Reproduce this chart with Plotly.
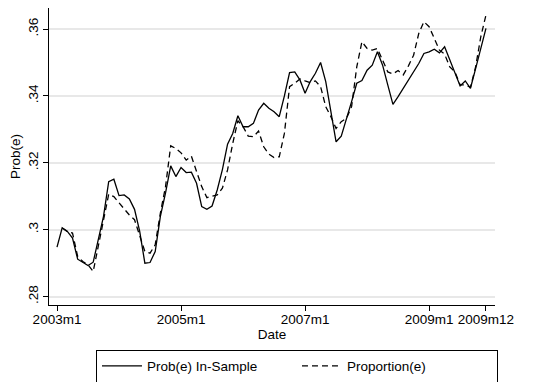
import plotly.graph_objects as go

months = list(range(84))  # 0 = 2003m1 ... 83 = 2009m12

prob_in_sample = [
    0.2948, 0.3006, 0.2995, 0.2975, 0.2912, 0.2902, 0.2893, 0.2903, 0.2970, 0.3040,
    0.3144, 0.3151, 0.3102, 0.3104, 0.3092, 0.3061, 0.2995, 0.2900, 0.2902, 0.2935,
    0.3040, 0.3110, 0.3191, 0.3159, 0.3186, 0.3171, 0.3172, 0.3139, 0.3069, 0.3061,
    0.3071, 0.3119, 0.3180, 0.3256, 0.3288, 0.3341, 0.3308, 0.3308, 0.3318, 0.3358,
    0.3378, 0.3363, 0.3353, 0.3338, 0.3400, 0.3470, 0.3472, 0.3448, 0.3408, 0.3443,
    0.3468, 0.3500, 0.3443, 0.3353, 0.3263, 0.3280, 0.3328, 0.3383, 0.3438, 0.3446,
    0.3477, 0.3492, 0.3532, 0.3492, 0.3433, 0.3375, 0.3398, 0.3423, 0.3448, 0.3472,
    0.3497, 0.3527, 0.3532, 0.3540, 0.3529, 0.3547, 0.3507, 0.3468, 0.3430, 0.3445,
    0.3423, 0.3482, 0.3542, 0.3602,
]

proportion = [
    None, 0.3005, 0.2995, 0.2990, 0.2920, 0.2905, 0.2895, 0.2875, 0.2950, 0.3020,
    0.3106, 0.3099, 0.3081, 0.3064, 0.3044, 0.3030, 0.2985, 0.2935, 0.2930, 0.2955,
    0.3050, 0.3129, 0.3251, 0.3243, 0.3230, 0.3208, 0.3220, 0.3174, 0.3129, 0.3096,
    0.3100, 0.3104, 0.3124, 0.3179, 0.3258, 0.3326, 0.3308, 0.3280, 0.3278, 0.3295,
    0.3248, 0.3226, 0.3216, 0.3218, 0.3288, 0.3428, 0.3438, 0.3451, 0.3445, 0.3440,
    0.3445, 0.3428, 0.3368, 0.3338, 0.3303, 0.3323, 0.3333, 0.3368, 0.3487, 0.3562,
    0.3542, 0.3537, 0.3542, 0.3507, 0.3472, 0.3466, 0.3476, 0.3463, 0.3490, 0.3522,
    0.3587, 0.3622, 0.3607, 0.3572, 0.3537, 0.3525, 0.3487, 0.3472, 0.3433, 0.3433,
    0.3426, 0.3487, 0.3577, 0.3642,
]

x_tick_vals = [0, 24, 48, 72, 83]
x_tick_text = ["2003m1", "2005m1", "2007m1", "2009m1", "2009m12"]
y_tick_vals = [0.28, 0.30, 0.32, 0.34, 0.36]
y_tick_text = [".28", ".3", ".32", ".34", ".36"]

FONT = "Liberation Sans, Arial, sans-serif"

fig = go.Figure()
fig.add_trace(go.Scatter(
    x=months, y=prob_in_sample, mode="lines", name="Prob(e) In-Sample",
    line=dict(color="black", width=1.3),
))
fig.add_trace(go.Scatter(
    x=months, y=proportion, mode="lines", name="Proportion(e)",
    line=dict(color="black", width=1.3, dash="6px,4px"),
))

# page body has an 8px default margin, so the figure is sized/offset to compensate
fig.update_layout(
    width=537, height=374,
    margin=dict(l=41, r=50, t=0, b=77, autoexpand=False),
    paper_bgcolor="white", plot_bgcolor="white",
    font=dict(family=FONT, size=13.5, color="black"),
    showlegend=True,
    legend=dict(
        orientation="h", x=0.556, xanchor="center", y=-0.150, yanchor="top",
        bordercolor="black", borderwidth=1, bgcolor="white",
        font=dict(size=13.5), entrywidth=145, itemwidth=40,
        tracegroupgap=0,
    ),
    xaxis=dict(
        range=[-1.55, 84.75], automargin=False,
        tickmode="array", tickvals=x_tick_vals, ticktext=x_tick_text,
        ticks="outside", ticklen=5, tickcolor="black", tickwidth=1,
        ticklabelstandoff=-3,
        showline=True, linecolor="black", linewidth=1,
        showgrid=False, zeroline=False,
        title=dict(text="Date", standoff=0, font=dict(size=13.5)),
        tickfont=dict(size=13.5),
    ),
    yaxis=dict(
        range=[0.2775, 0.3663], automargin=False,
        tickmode="array", tickvals=y_tick_vals, ticktext=y_tick_text,
        tickangle=-90,
        ticks="outside", ticklen=5, tickcolor="black", tickwidth=1,
        showline=True, linecolor="black", linewidth=1,
        showgrid=True, gridcolor="#e8e8e8", gridwidth=1.5,
        zeroline=False,
        title=dict(text="Prob(e)", standoff=2, font=dict(size=13.5)),
        tickfont=dict(size=13.5),
    ),
)

fig.write_html("out.html")
